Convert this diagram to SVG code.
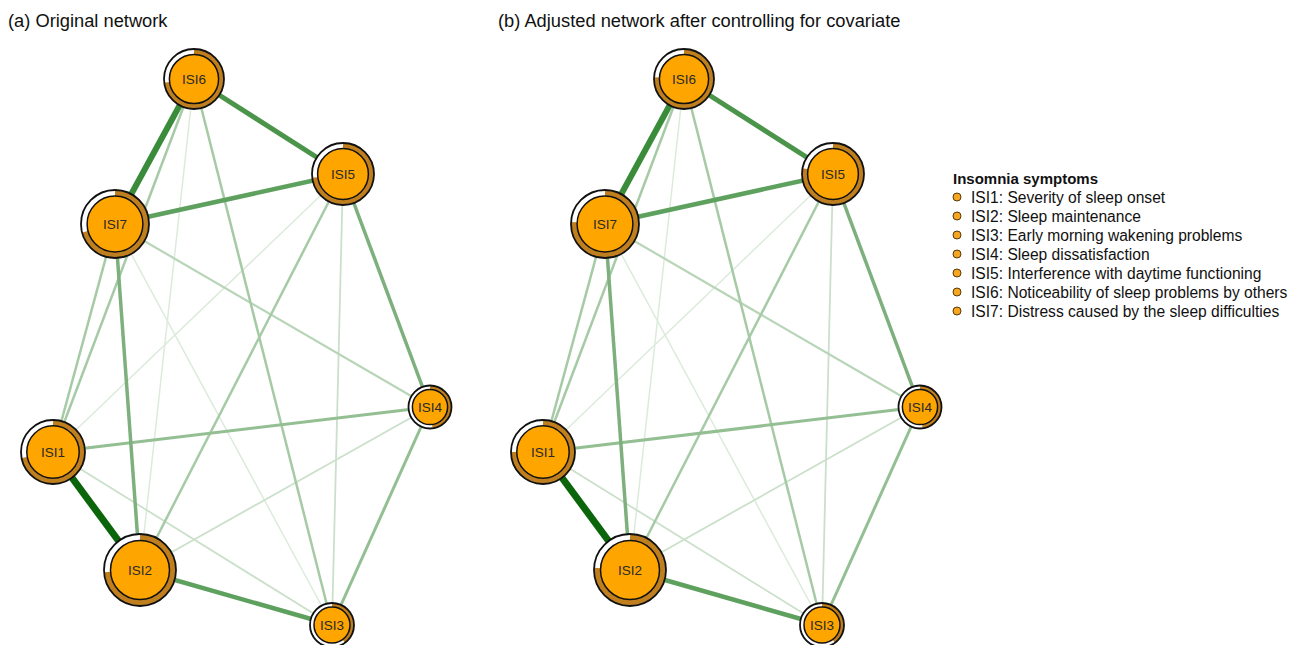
<svg xmlns="http://www.w3.org/2000/svg" width="1293" height="645" viewBox="0 0 1293 645">
<style>
.title{font-family:"Liberation Sans",Arial,sans-serif;font-size:18.3px;fill:#111}
.lbl{font-family:"Liberation Sans",Arial,sans-serif;font-size:13.5px;fill:#2a2a2a;text-anchor:middle}
.leg{font-family:"Liberation Sans",Arial,sans-serif;font-size:15.6px;fill:#111}
.legh{font-family:"Liberation Sans",Arial,sans-serif;font-size:15px;font-weight:bold;fill:#111}
.rim{fill:#fff;stroke:none}
.pie{fill:none;stroke:#C07F1E}
.core{fill:#FFA500;stroke:#111;stroke-width:1.5}
.outline{fill:none;stroke:#111;stroke-width:1.8}
.bul{fill:#F5A623;stroke:#5a3a06;stroke-width:1}
line{stroke-linecap:butt}
.w1{stroke:#0b650b;stroke-width:7}
.w2{stroke:#3a8b3a;stroke-width:6}
.w3{stroke:#4b954b;stroke-width:5}
.w4{stroke:#5ea15e;stroke-width:4.5}
.w5{stroke:#7db07d;stroke-width:3.5}
.w6{stroke:#93bf93;stroke-width:3}
.w7{stroke:#a6caa6;stroke-width:2.5}
.w8{stroke:#b8d5b8;stroke-width:2.2}
.w9{stroke:#cbe0cb;stroke-width:1.8}
.w10{stroke:#dcebdc;stroke-width:1.5}
</style>

<text class="title" x="8" y="27">(a) Original network</text>
<text class="title" x="498" y="27">(b) Adjusted network after controlling for covariate</text>

<g id="connectors-a">
<line class="w10" x1="343" y1="174" x2="53" y2="452"/>
<line class="w10" x1="194" y1="79" x2="140" y2="570"/>
<line class="w10" x1="115" y1="224" x2="332" y2="625"/>
<line class="w9" x1="343" y1="174" x2="332" y2="625"/>
<line class="w9" x1="53" y1="452" x2="332" y2="625"/>
<line class="w9" x1="140" y1="570" x2="430" y2="407"/>
<line class="w8" x1="115" y1="224" x2="430" y2="407"/>
<line class="w7" x1="194" y1="79" x2="332" y2="625"/>
<line class="w7" x1="343" y1="174" x2="140" y2="570"/>
<line class="w7" x1="194" y1="79" x2="53" y2="452"/>
<line class="w7" x1="115" y1="224" x2="53" y2="452"/>
<line class="w6" x1="430" y1="407" x2="332" y2="625"/>
<line class="w6" x1="53" y1="452" x2="430" y2="407"/>
<line class="w5" x1="343" y1="174" x2="430" y2="407"/>
<line class="w5" x1="115" y1="224" x2="140" y2="570"/>
<line class="w4" x1="140" y1="570" x2="332" y2="625"/>
<line class="w4" x1="115" y1="224" x2="343" y2="174"/>
<line class="w3" x1="194" y1="79" x2="343" y2="174"/>
<line class="w2" x1="194" y1="79" x2="115" y2="224"/>
<line class="w1" x1="53" y1="452" x2="140" y2="570"/>
</g>

<g id="connectors-b" transform="translate(490,0)">
<line class="w10" x1="343" y1="174" x2="53" y2="452"/>
<line class="w10" x1="194" y1="79" x2="140" y2="570"/>
<line class="w10" x1="115" y1="224" x2="332" y2="625"/>
<line class="w9" x1="343" y1="174" x2="332" y2="625"/>
<line class="w9" x1="53" y1="452" x2="332" y2="625"/>
<line class="w9" x1="140" y1="570" x2="430" y2="407"/>
<line class="w8" x1="115" y1="224" x2="430" y2="407"/>
<line class="w7" x1="194" y1="79" x2="332" y2="625"/>
<line class="w7" x1="343" y1="174" x2="140" y2="570"/>
<line class="w7" x1="194" y1="79" x2="53" y2="452"/>
<line class="w7" x1="115" y1="224" x2="53" y2="452"/>
<line class="w6" x1="430" y1="407" x2="332" y2="625"/>
<line class="w6" x1="53" y1="452" x2="430" y2="407"/>
<line class="w5" x1="343" y1="174" x2="430" y2="407"/>
<line class="w5" x1="115" y1="224" x2="140" y2="570"/>
<line class="w4" x1="140" y1="570" x2="332" y2="625"/>
<line class="w4" x1="115" y1="224" x2="343" y2="174"/>
<line class="w3" x1="194" y1="79" x2="343" y2="174"/>
<line class="w2" x1="194" y1="79" x2="115" y2="224"/>
<line class="w1" x1="53" y1="452" x2="140" y2="570"/>
</g>

<!-- Panel a nodes -->
<g id="a-ISI1" transform="translate(53,452)">
<circle class="rim" r="32"/><circle class="pie" r="29.1" stroke-width="5.8" pathLength="100" stroke-dasharray="72 100" transform="rotate(-90)"/><circle class="core" r="26.2"/><circle class="outline" r="32"/><text class="lbl" y="4.7">ISI1</text>
</g>
<g id="a-ISI2" transform="translate(140,570)">
<circle class="rim" r="36"/><circle class="pie" r="32.8" stroke-width="6.5" pathLength="100" stroke-dasharray="74 100" transform="rotate(-90)"/><circle class="core" r="29.5"/><circle class="outline" r="36"/><text class="lbl" y="4.7">ISI2</text>
</g>
<g id="a-ISI3" transform="translate(332,625)">
<circle class="rim" r="22"/><circle class="pie" r="20" stroke-width="4" pathLength="100" stroke-dasharray="40 100" transform="rotate(-90)"/><circle class="core" r="18"/><circle class="outline" r="22"/><text class="lbl" y="4.7">ISI3</text>
</g>
<g id="a-ISI4" transform="translate(430,407)">
<circle class="rim" r="21.5"/><circle class="pie" r="19.6" stroke-width="3.9" pathLength="100" stroke-dasharray="48 100" transform="rotate(-90)"/><circle class="core" r="17.6"/><circle class="outline" r="21.5"/><text class="lbl" y="4.7">ISI4</text>
</g>
<g id="a-ISI5" transform="translate(343,174)">
<circle class="rim" r="31"/><circle class="pie" r="28.2" stroke-width="5.6" pathLength="100" stroke-dasharray="73 100" transform="rotate(-90)"/><circle class="core" r="25.4"/><circle class="outline" r="31"/><text class="lbl" y="4.7">ISI5</text>
</g>
<g id="a-ISI6" transform="translate(194,79)">
<circle class="rim" r="30"/><circle class="pie" r="27.3" stroke-width="5.4" pathLength="100" stroke-dasharray="73 100" transform="rotate(-90)"/><circle class="core" r="24.6"/><circle class="outline" r="30"/><text class="lbl" y="4.7">ISI6</text>
</g>
<g id="a-ISI7" transform="translate(115,224)">
<circle class="rim" r="34"/><circle class="pie" r="31" stroke-width="6.1" pathLength="100" stroke-dasharray="71 100" transform="rotate(-90)"/><circle class="core" r="27.9"/><circle class="outline" r="34"/><text class="lbl" y="4.7">ISI7</text>
</g>

<!-- Panel b nodes -->
<g id="b-ISI1" transform="translate(543,452)">
<circle class="rim" r="32"/><circle class="pie" r="29.1" stroke-width="5.8" pathLength="100" stroke-dasharray="75 100" transform="rotate(-90)"/><circle class="core" r="26.2"/><circle class="outline" r="32"/><text class="lbl" y="4.7">ISI1</text>
</g>
<g id="b-ISI2" transform="translate(630,570)">
<circle class="rim" r="36"/><circle class="pie" r="32.8" stroke-width="6.5" pathLength="100" stroke-dasharray="76 100" transform="rotate(-90)"/><circle class="core" r="29.5"/><circle class="outline" r="36"/><text class="lbl" y="4.7">ISI2</text>
</g>
<g id="b-ISI3" transform="translate(822,625)">
<circle class="rim" r="22"/><circle class="pie" r="20" stroke-width="4" pathLength="100" stroke-dasharray="40 100" transform="rotate(-90)"/><circle class="core" r="18"/><circle class="outline" r="22"/><text class="lbl" y="4.7">ISI3</text>
</g>
<g id="b-ISI4" transform="translate(920,407)">
<circle class="rim" r="21.5"/><circle class="pie" r="19.6" stroke-width="3.9" pathLength="100" stroke-dasharray="48 100" transform="rotate(-90)"/><circle class="core" r="17.6"/><circle class="outline" r="21.5"/><text class="lbl" y="4.7">ISI4</text>
</g>
<g id="b-ISI5" transform="translate(833,174)">
<circle class="rim" r="31"/><circle class="pie" r="28.2" stroke-width="5.6" pathLength="100" stroke-dasharray="78 100" transform="rotate(-90)"/><circle class="core" r="25.4"/><circle class="outline" r="31"/><text class="lbl" y="4.7">ISI5</text>
</g>
<g id="b-ISI6" transform="translate(684,79)">
<circle class="rim" r="30"/><circle class="pie" r="27.3" stroke-width="5.4" pathLength="100" stroke-dasharray="76 100" transform="rotate(-90)"/><circle class="core" r="24.6"/><circle class="outline" r="30"/><text class="lbl" y="4.7">ISI6</text>
</g>
<g id="b-ISI7" transform="translate(605,224)">
<circle class="rim" r="34"/><circle class="pie" r="31" stroke-width="6.1" pathLength="100" stroke-dasharray="76 100" transform="rotate(-90)"/><circle class="core" r="27.9"/><circle class="outline" r="34"/><text class="lbl" y="4.7">ISI7</text>
</g>

<g id="legend">
<text class="legh" x="953" y="184">Insomnia symptoms</text>
<circle class="bul" cx="957" cy="197" r="4"/><text class="leg" x="971" y="202.5">ISI1: Severity of sleep onset</text>
<circle class="bul" cx="957" cy="216" r="4"/><text class="leg" x="971" y="221.5">ISI2: Sleep maintenance</text>
<circle class="bul" cx="957" cy="235" r="4"/><text class="leg" x="971" y="240.5">ISI3: Early morning wakening problems</text>
<circle class="bul" cx="957" cy="254" r="4"/><text class="leg" x="971" y="259.5">ISI4: Sleep dissatisfaction</text>
<circle class="bul" cx="957" cy="273" r="4"/><text class="leg" x="971" y="278.5">ISI5: Interference with daytime functioning</text>
<circle class="bul" cx="957" cy="292" r="4"/><text class="leg" x="971" y="297.5">ISI6: Noticeability of sleep problems by others</text>
<circle class="bul" cx="957" cy="311" r="4"/><text class="leg" x="971" y="316.5">ISI7: Distress caused by the sleep difficulties</text>
</g>
</svg>
